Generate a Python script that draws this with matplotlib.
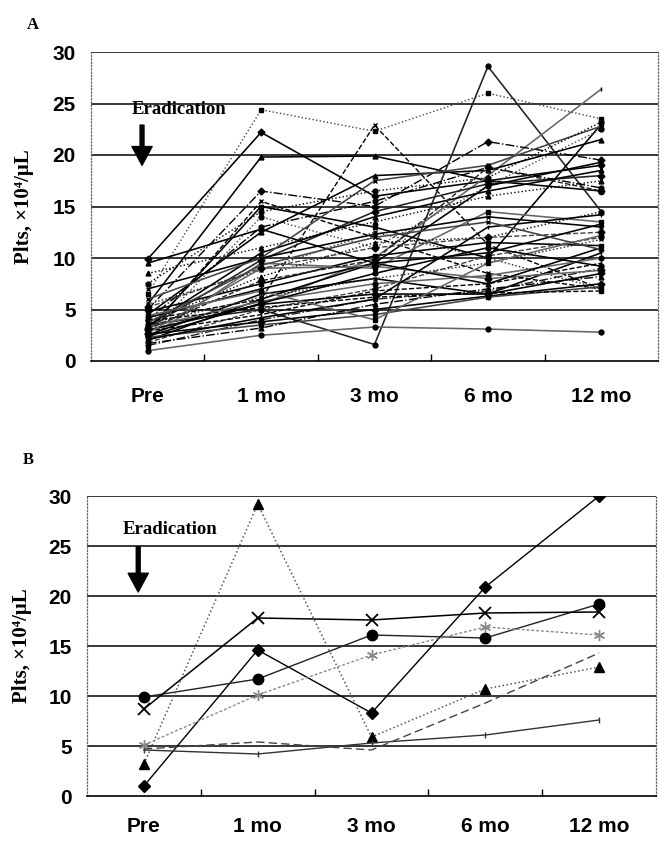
import matplotlib
matplotlib.use("Agg")
import matplotlib.pyplot as plt
import numpy as np

categories = ["Pre", "1 mo", "3 mo", "6 mo", "12 mo"]
yticks = [0, 5, 10, 15, 20, 25, 30]

# Panel A: platelet counts of each patient, one list per time point
a_pre  = [9.9, 6.5, 5.5, 4.0, 3.5, 3.0, 5.0, 3.0, 2.5, 4.5, 2.8, 3.2, 2.2, 3.8, 2.0,
          1.8, 2.5, 3.0, 1.5, 1.0, 8.5, 7.0, 5.2, 4.8, 4.2, 3.6, 3.3, 2.9, 2.6, 2.3,
          4.0, 3.4, 5.5, 2.7, 3.9, 9.5, 6.0, 7.5, 2.1, 3.1, 4.4, 2.4, 1.7, 3.7]
a_1mo  = [22.2, 24.4, 19.8, 6.0, 5.0, 5.5, 16.5, 15.0, 14.0, 12.5, 15.5, 9.8, 9.5, 8.2, 6.0,
          5.0, 6.5, 5.5, 4.0, 2.5, 11.0, 10.0, 9.0, 7.5, 7.0, 6.2, 5.8, 4.5, 3.8, 3.5,
          13.0, 10.5, 8.8, 9.0, 5.2, 12.8, 10.0, 14.5, 4.2, 7.8, 6.8, 5.6, 3.2, 9.3]
a_3mo  = [16.0, 22.3, 19.9, 22.9, 1.6, 10.0, 15.0, 13.0, 11.0, 18.0, 12.0, 14.5, 9.0, 11.5, 9.5,
          7.0, 8.0, 6.5, 6.0, 3.3, 13.5, 12.3, 11.0, 10.2, 9.5, 8.0, 7.5, 6.8, 5.0, 4.5,
          15.5, 14.0, 12.5, 9.2, 6.2, 9.5, 17.5, 16.5, 6.0, 9.8, 4.0, 8.5, 5.5, 12.0]
a_6mo  = [17.5, 26.0, 17.5, 11.3, 28.6, 18.0, 21.3, 10.0, 17.0, 18.5, 8.5, 17.2, 14.5, 12.0, 17.0,
          10.2, 6.5, 6.5, 6.8, 3.1, 16.0, 14.0, 12.0, 11.5, 10.5, 9.5, 8.3, 7.5, 6.3, 6.2,
          18.8, 16.5, 10.0, 8.0, 6.6, 7.5, 19.0, 17.8, 13.0, 18.8, 9.5, 11.0, 7.0, 13.5]
a_12mo = [19.0, 23.5, 16.5, 7.0, 14.5, 26.4, 19.5, 23.0, 22.5, 21.5, 7.0, 18.0, 13.5, 14.5, 19.3,
          12.0, 10.5, 8.5, 9.0, 2.8, 17.5, 13.0, 12.5, 11.2, 13.3, 11.8, 10.0, 9.5, 7.5, 7.2,
          16.8, 18.5, 7.0, 8.8, 6.8, 11.0, 22.8, 23.2, 14.2, 16.5, 12.2, 9.2, 8.2, 10.8]

# Panel B: seven patients
b_diamond  = [1.0, 14.6, 8.3, 20.9, 30.0]
b_circle   = [9.9, 11.7, 16.1, 15.8, 19.2]
b_cross    = [8.7, 17.8, 17.6, 18.3, 18.4]
b_triangle = [3.2, 29.2, 5.9, 10.7, 12.9]
b_star     = [5.1, 10.1, 14.1, 16.9, 16.1]
b_plus     = [4.6, 4.2, 5.3, 6.1, 7.6]
b_dash     = [4.7, 5.4, 4.6, 9.3, 14.3]

TICK_FONT = ["Liberation Sans", "DejaVu Sans"]
SERIF = ["Liberation Serif", "DejaVu Serif"]

fig = plt.figure(figsize=(6.68, 8.42), dpi=100)
axA = fig.add_axes([91 / 668, 1 - 361 / 842, (658 - 91) / 668, (361 - 52) / 842])
axB = fig.add_axes([87 / 668, 1 - 796 / 842, (656 - 87) / 668, (796 - 496) / 842])

xpos = np.arange(len(categories)) + 0.5


def style_axes(ax, label_x, xpad):
    ax.set_xlim(0, 5)
    ax.set_ylim(0, 30)
    for y in yticks[1:]:
        ax.axhline(y, color="black", lw=1.1, zorder=1)
    ax.spines["top"].set_visible(False)
    for s in ("left", "right"):
        ax.spines[s].set_linestyle(":")
        ax.spines[s].set_color("#666666")
        ax.spines[s].set_linewidth(0.9)
    ax.spines["bottom"].set_color("black")
    ax.spines["bottom"].set_linewidth(1.2)
    ax.set_yticks(yticks)
    ax.set_yticklabels([str(v) for v in yticks], family=TICK_FONT,
                       fontweight="bold", fontsize=15)
    ax.tick_params(axis="y", length=0, pad=11)
    ax.set_xticks(xpos)
    ax.set_xticklabels(categories, family=TICK_FONT, fontweight="bold", fontsize=15)
    ax.tick_params(axis="x", which="major", length=0, pad=xpad)
    ax.set_xticks([1, 2, 3, 4], minor=True)
    ax.tick_params(axis="x", which="minor", direction="in", length=5, width=1, color="black")
    ax.set_ylabel("Plts, \u00d710\u2074/\u03bcL", family=SERIF, fontweight="bold", fontsize=15)
    ax.yaxis.set_label_coords(label_x, 0.5)


def eradication(ax, text_x, text_y, arrow_x, top, tip):
    ax.text(text_x, text_y, "Eradication", family=SERIF, fontweight="bold",
            fontsize=13.5, ha="left", va="center", zorder=6)
    ax.annotate("", xy=(arrow_x, tip), xytext=(arrow_x, top),
                arrowprops=dict(arrowstyle="simple,head_width=1.45,head_length=1.35,tail_width=0.28",
                                color="black", mutation_scale=10, shrinkA=0, shrinkB=0),
                zorder=6)


# ---------- Panel A ----------
style_axes(axA, -0.10, 19)
markers = ["D", "s", "^", "x", "o", "|", "D", "s", "o", "^", "x"]
linestyles = ["-", ":", "-", "--", "-", "-", "-.", "-", ":", "-", "--", "-"]
colors = ["black", "#444444", "black", "black", "#222222", "#666666", "black"]
cols = np.array([a_pre, a_1mo, a_3mo, a_6mo, a_12mo])
for i in range(cols.shape[1]):
    ls = linestyles[i % len(linestyles)]
    col = colors[i % len(colors)]
    lw = 1.15 if ls == "-" else 1.0
    axA.plot(xpos, cols[:, i], ls=ls, color=col, lw=lw,
             marker=markers[i % len(markers)], markersize=3.5, markeredgewidth=1.0,
             mfc="black", mec="black", zorder=3)
eradication(axA, 0.36, 24.4, 0.45, 22.9, 19.0)
fig.text(33 / 668, 1 - 25 / 842, "A", family=SERIF, fontweight="bold", fontsize=12,
         ha="center", va="center")

# ---------- Panel B ----------
style_axes(axB, -0.097, 15)
axB.plot(xpos, b_diamond, ls="-", color="black", lw=1.0, marker="D", markersize=6, zorder=4)
axB.plot(xpos, b_circle, ls="-", color="#222222", lw=1.0, marker="o", markersize=7.5,
         mfc="black", mec="black", zorder=4)
axB.plot(xpos, b_cross, ls="-", color="black", lw=1.1, marker="x", markersize=8,
         markeredgewidth=1.3, zorder=4)
axB.plot(xpos, b_triangle, ls=":", color="#555555", lw=1.1, marker="^", markersize=7,
         mfc="black", mec="black", zorder=4)
axB.plot(xpos, b_star, ls=(0, (2, 1.5)), color="#888888", lw=1.0, marker=(6, 2, 0),
         markersize=8, mec="#888888", zorder=4)
axB.plot(xpos, b_plus, ls="-", color="#333333", lw=1.0, marker="|", markersize=5,
         mec="#333333", zorder=4)
axB.plot(xpos, b_dash, ls=(0, (6, 3)), color="#444444", lw=1.0, zorder=4)
eradication(axB, 0.31, 26.6, 0.45, 24.9, 20.4)
fig.text(28 / 668, 1 - 460 / 842, "B", family=SERIF, fontweight="bold", fontsize=12,
         ha="center", va="center")

fig.savefig("out.png", dpi=100)
